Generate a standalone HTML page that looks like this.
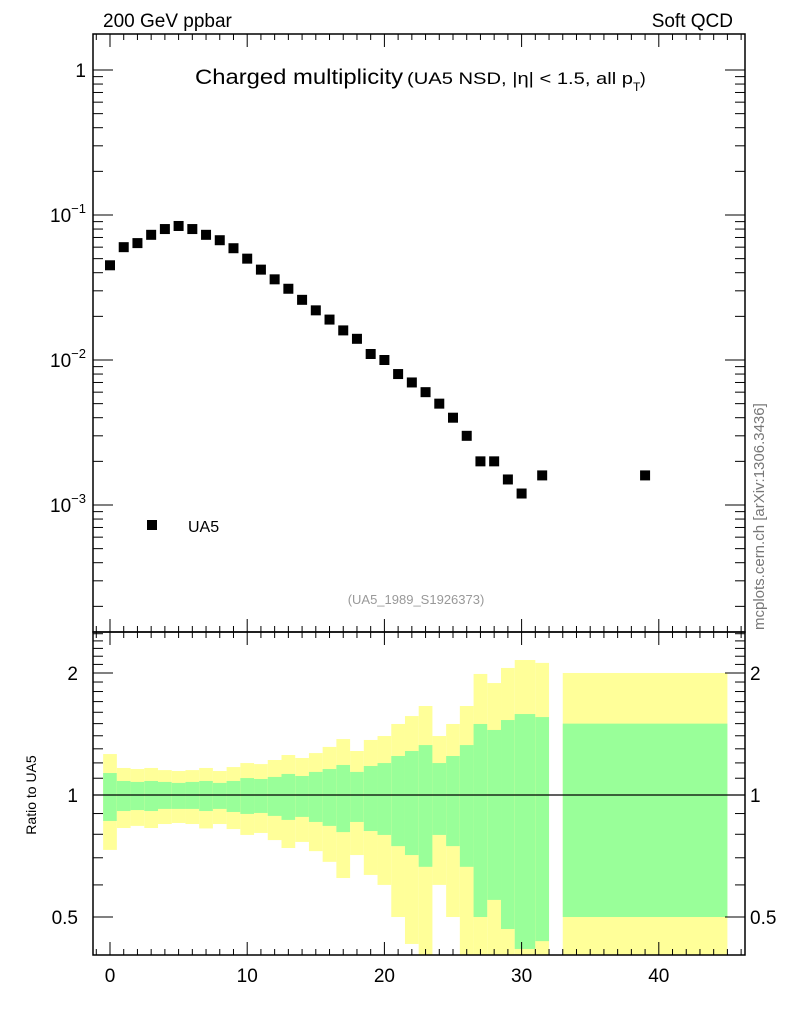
<!DOCTYPE html>
<html><head><meta charset="utf-8"><style>
body{margin:0;background:#fff;}
svg{display:block;font-family:"Liberation Sans",sans-serif;}
</style></head><body>
<svg id="c" width="786" height="1024" viewBox="0 0 786 1024">
<text x="103" y="27" font-size="19">200 GeV ppbar</text>
<text x="733" y="27" font-size="19" text-anchor="end">Soft QCD</text>
<text x="195" y="84" font-size="21" textLength="208" lengthAdjust="spacingAndGlyphs">Charged multiplicity</text>
<text x="407" y="84" font-size="17" textLength="226" lengthAdjust="spacingAndGlyphs">(UA5 NSD, |η| &lt; 1.5, all p</text>
<text x="633" y="91" font-size="12">T</text>
<text x="633" y="84" font-size="17" dx="7">)</text>
<text x="416" y="604" font-size="13" fill="#999" text-anchor="middle">(UA5_1989_S1926373)</text>
<text transform="translate(764,630) rotate(-90)" font-size="15" fill="#777">mcplots.cern.ch [arXiv:1306.3436]</text>
<text transform="translate(36,795) rotate(-90)" font-size="14" text-anchor="middle">Ratio to UA5</text>
<rect x="147" y="520" width="10" height="10" fill="#000"/>
<text x="188" y="532" font-size="16">UA5</text>
<g id="bands"></g><g id="axes"></g><g id="pts"></g>
</svg>
<script>
const xVals=[0,1,2,3,4,5,6,7,8,9,10,11,12,13,14,15,16,17,18,19,20,21,22,23,24,25,26,27,28,29,30,31.5,39];
const yVals=[0.045,0.060,0.064,0.073,0.080,0.084,0.080,0.073,0.067,0.059,0.050,0.042,0.036,0.031,0.026,0.022,0.019,0.016,0.014,0.011,0.010,0.008,0.007,0.006,0.005,0.004,0.003,0.002,0.002,0.0015,0.0012,0.0016,0.0016];
const binLo=[-0.5,0.5,1.5,2.5,3.5,4.5,5.5,6.5,7.5,8.5,9.5,10.5,11.5,12.5,13.5,14.5,15.5,16.5,17.5,18.5,19.5,20.5,21.5,22.5,23.5,24.5,25.5,26.5,27.5,28.5,29.5,31,33];
const binHi=[0.5,1.5,2.5,3.5,4.5,5.5,6.5,7.5,8.5,9.5,10.5,11.5,12.5,13.5,14.5,15.5,16.5,17.5,18.5,19.5,20.5,21.5,22.5,23.5,24.5,25.5,26.5,27.5,28.5,29.5,31,32,45];
const yelUp=[1.262,1.166,1.159,1.166,1.152,1.146,1.152,1.166,1.146,1.172,1.199,1.192,1.220,1.255,1.234,1.269,1.314,1.374,1.284,1.367,1.398,1.497,1.566,1.658,1.398,1.497,1.658,1.989,1.889,2.058,2.153,2.118,2.0];
const grnUp=[1.133,1.083,1.077,1.083,1.077,1.071,1.077,1.083,1.071,1.083,1.101,1.095,1.108,1.127,1.114,1.140,1.159,1.186,1.140,1.179,1.199,1.248,1.284,1.328,1.199,1.248,1.328,1.497,1.447,1.531,1.584,1.557,1.5];
const grnDn=[0.863,0.913,0.918,0.913,0.924,0.924,0.924,0.913,0.924,0.908,0.898,0.903,0.888,0.868,0.883,0.858,0.839,0.810,0.858,0.815,0.797,0.748,0.711,0.665,0.797,0.748,0.665,0.500,0.551,0.467,0.417,0.436,0.5];
const yelDn=[0.732,0.829,0.839,0.829,0.848,0.853,0.848,0.827,0.848,0.824,0.797,0.806,0.774,0.740,0.766,0.727,0.684,0.624,0.711,0.635,0.600,0.500,0.429,0.38,0.600,0.500,0.38,0.35,0.35,0.35,0.35,0.35,0.35];
const xTicks=[0,10,20,30,40];
const mainTicks=[1,0.1,0.01,0.001];
const ratioTicks=[0.5,1,2];

const NS='http://www.w3.org/2000/svg';
const L=93,R=745,T=34,MB=632,RB=955;
const xs=v=>110+(v)*13.72;
const ym=v=>70-Math.log10(v)*145;
const yr=v=>795-Math.log10(v)*405.3;
function mk(p,tag,a){const e=document.createElementNS(NS,tag);for(const k in a)e.setAttribute(k,a[k]);p.appendChild(e);return e;}
const B=document.getElementById('bands'),A=document.getElementById('axes'),P=document.getElementById('pts');
for(let i=0;i<binLo.length;i++){
 const x0=xs(binLo[i]),w=xs(binHi[i])-x0;
 const y1=Math.max(yr(yelUp[i]),MB),y2=Math.min(yr(yelDn[i]),RB);
 const r1=mk(B,'rect',{x:x0,y:y1,width:w,height:y2-y1,fill:'#ffff99'});
 
 
 const g1=yr(grnUp[i]),g2=Math.min(yr(grnDn[i]),RB);
 const r2=mk(B,'rect',{x:x0,y:g1,width:w,height:g2-g1,fill:'#99ff99'});
 
 
}
const one=mk(A,'line',{x1:L,x2:R,y1:yr(1),y2:yr(1),stroke:'#000','stroke-width':1.3});


const f1=mk(A,'rect',{x:L,y:T,width:R-L,height:MB-T,fill:'none',stroke:'#000','stroke-width':1.5});


const f2=mk(A,'rect',{x:L,y:MB,width:R-L,height:RB-MB,fill:'none',stroke:'#000','stroke-width':1.5});


function tk(x1,y1,x2,y2){mk(A,'line',{x1,y1,x2,y2,stroke:'#000','stroke-width':1});}
for(let v=-1;v<=46;v++){
 const x=xs(v);if(x<L||x>R)continue;const maj=v%10===0;const len=maj?13:6;
 tk(x,T,x,T+len);tk(x,MB,x,MB-len);tk(x,MB,x,MB+len);tk(x,RB,x,RB-len);
}
xTicks.forEach(v=>{const t=mk(A,'text',{x:xs(v),y:982,'font-size':19,'text-anchor':'middle'});t.textContent=v;
 
 });
for(let e=-4;e<=0;e++)for(let m=1;m<=9;m++){
 const v=m*Math.pow(10,e),y=ym(v);if(y<T||y>MB)continue;const len=m===1?20:10;
 tk(L,y,L+len,y);tk(R,y,R-len,y);
}
mainTicks.forEach(v=>{const e=Math.round(Math.log10(v));const t=mk(A,'text',{x:86,y:ym(v)+7,'font-size':19,'text-anchor':'end'});
 if(e===0)t.textContent='1';else{t.textContent='10';const s=mk(t,'tspan',{dy:-9,'font-size':13});s.textContent=String(e).replace('-','−');}
 
 });
const rMinor=[0.4,0.5,0.6,0.7,0.8,0.9,1,1.1,1.2,1.3,1.4,1.5,1.6,1.7,1.8,1.9,2,2.1,2.2,2.3,2.4,2.5];
rMinor.forEach(v=>{const y=yr(v);if(y<MB||y>RB)return;const maj=ratioTicks.indexOf(v)>=0;const len=maj?20:10;tk(L,y,L+len,y);tk(R,y,R-len,y);});
ratioTicks.forEach(v=>{const y=yr(v)+7;
 const t=mk(A,'text',{x:78,y,'font-size':19,'text-anchor':'end'});t.textContent=v;
 
 
 const t2=mk(A,'text',{x:750,y,'font-size':19});t2.textContent=v;
 
 });
xVals.forEach((v,i)=>{const r=mk(P,'rect',{x:xs(v)-5,y:ym(yVals[i])-5,width:10,height:10,fill:'#000'});
 
 });
</script>
</body></html>
